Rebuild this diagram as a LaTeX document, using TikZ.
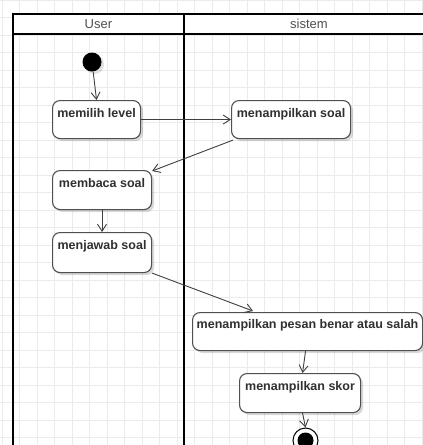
\documentclass[tikz,border=0pt]{standalone}
\usepackage{fontspec}
\setmainfont{Liberation Sans}
\usetikzlibrary{arrows.meta,shadows}
\definecolor{gridc}{HTML}{EBEBEB}
\definecolor{boxc}{HTML}{505050}
\definecolor{textc}{HTML}{303030}
\definecolor{hdrc}{HTML}{505050}
\definecolor{linec}{HTML}{404040}
\tikzset{
  act/.style={draw=boxc, fill=white, rounded corners=7.5pt, line width=1.1pt,
    inner sep=0pt, font=\bfseries\fontsize{12.5}{14}\selectfont, text=textc,
    text height=17pt, text depth=21pt,
    drop shadow={shadow xshift=2.5pt, shadow yshift=-2.5pt, fill=black, opacity=0.15}},
  flow/.style={draw=linec, line width=0.9pt, -{Straight Barb[length=7pt,width=9pt]}},
  lane/.style={draw=black, line width=2pt},
  hdr/.style={font=\fontsize{13}{15}\selectfont, text=hdrc, inner sep=0pt}
}
\begin{document}
\begin{tikzpicture}[x=1pt,y=-1pt]
\useasboundingbox (0,0) rectangle (423,445);
\clip (0,0) rectangle (423,445);
\fill[white] (0,0) rectangle (423,445);
% grid
\foreach \i in {0,...,24} {
  \draw[gridc, line width=0.7pt] ({2+17.5*\i},0) -- ({2+17.5*\i},445);
}
\foreach \j in {0,...,26} {
  \draw[gridc, line width=0.7pt] (0,{17.5*\j}) -- (423,{17.5*\j});
}
% swimlanes
\fill[white] (12.7,14) rectangle (434,34);
\draw[lane] (12.7,470) -- (12.7,14) -- (434,14);
\draw[black, line width=1.6pt] (12.7,34) -- (434,34);
\draw[lane] (184,14) -- (184,470);
\node[hdr] (huser) at (98.4,24) {User};
\node[hdr] (hsis) at (309,24) {sistem};
% start
\node[circle, fill=black, minimum size=19pt, inner sep=0pt,
  drop shadow={shadow xshift=2.5pt, shadow yshift=-2.5pt, fill=black, opacity=0.12}] (start) at (92,62) {};
% activities
\node[act, minimum width=88pt, anchor=north west] (ml) at (52,100) {memilih level};
\node[act, minimum width=119pt, anchor=north west] (ms) at (231,100) {menampilkan soal};
\node[act, minimum width=99pt, anchor=north west, text depth=22pt] (mb) at (52,170) {membaca soal};
\node[act, minimum width=99pt, anchor=north west, text depth=23pt] (mj) at (52,232) {menjawab soal};
\node[act, minimum width=230pt, anchor=north west, text height=15.5pt, text depth=22.5pt] (mp) at (192,312) {menampilkan pesan benar atau salah};
\node[act, minimum width=121pt, anchor=north west, text depth=22pt] (sk) at (239,373) {menampilkan skor};
% end
\node[circle, draw=black, fill=white, line width=1pt, minimum size=25pt, inner sep=0pt] (end) at (305.5,440.5) {};
\fill[black] (end.center) circle (8pt);
% connectors
\draw[flow] (start) -- (ml.north);
\draw[flow] (ml.east) -- (ms.west);
\draw[flow] ([xshift=2pt,yshift=-1pt]ms.south west) -- ([yshift=-1pt]mb.north east);
\draw[flow] (mb.south) -- (mj.north);
\draw[flow] (mj.south east) -- ([xshift=61pt,yshift=1pt]mp.north west);
\draw[flow] ([xshift=-2pt]mp.south) -- ([xshift=2.5pt]sk.north);
\draw[flow] ([xshift=2.5pt]sk.south) -- (end.north);
\end{tikzpicture}
\end{document}
